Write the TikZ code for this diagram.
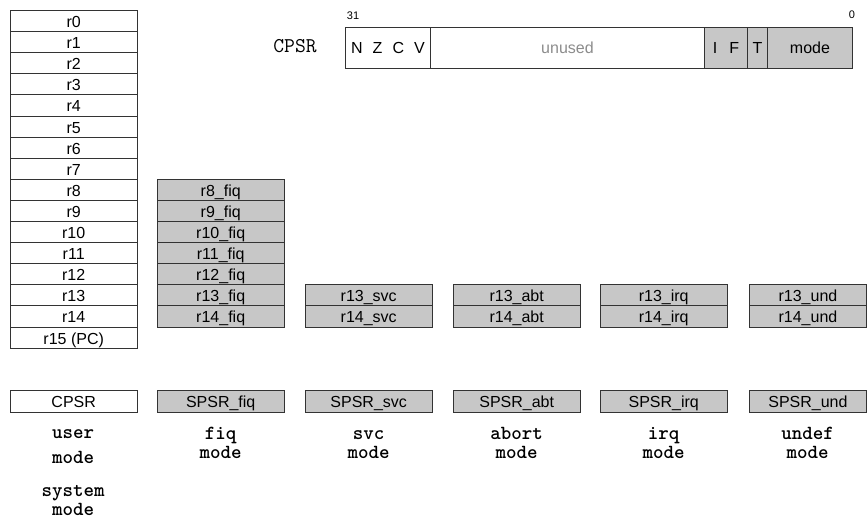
\documentclass[tikz,border=0pt]{standalone}
\usepackage{fontspec}
\setmainfont{Liberation Sans}
\begin{document}
\begin{tikzpicture}[x=1pt,y=-1pt,
  reg/.style={draw=black!80, line width=0.9pt, minimum width=126.5pt,
    minimum height=21.1pt, inner sep=0pt, anchor=north west,
    text height=14pt, text depth=1pt, font=\fontsize{16}{18}\selectfont},
  banked/.style={reg, fill=black!22},
  psr/.style={reg, minimum height=21.6pt},
  field/.style={draw=black!80, line width=0.9pt, minimum height=41.5pt,
    inner sep=0pt, anchor=north west, font=\fontsize{16}{18}\selectfont},
  flag/.style={field, fill=black!22},
  modelabel/.style={font=\fontsize{20}{22}\selectfont\ttfamily\bfseries,
    anchor=base, inner sep=0pt},
  bitno/.style={font=\fontsize{11}{12}\selectfont, inner sep=0pt},
]
\useasboundingbox (0,0) rectangle (867,520);

% user / system register file
\foreach \i in {0,...,14}
  \node[reg] (u\i) at (10,{10+21.1*\i}) {r\i};
\node[reg] (u15) at (10,{10+21.1*15}) {r15 (PC)};

% fiq banked registers
\foreach \i in {8,...,14}
  \node[banked] (f\i) at (157,{10+21.1*\i}) {r\i\_fiq};

% banked r13/r14 of the other modes
\foreach \m/\x in {svc/305, abt/453, irq/600} {
  \node[banked] (\m13) at (\x,{10+21.1*13}) {r13\_\m};
  \node[banked] (\m14) at (\x,{10+21.1*14}) {r14\_\m};
}
\node[banked, minimum width=117pt] (und13) at (749,{10+21.1*13}) {r13\_und};
\node[banked, minimum width=117pt] (und14) at (749,{10+21.1*14}) {r14\_und};

% status registers
\node[psr] (cpsrbox) at (10,390) {CPSR};
\node[psr, fill=black!22] (spsrfiq) at (157,390) {SPSR\_fiq};
\node[psr, fill=black!22] (spsrsvc) at (305,390) {SPSR\_svc};
\node[psr, fill=black!22] (spsrabt) at (453,390) {SPSR\_abt};
\node[psr, fill=black!22] (spsrirq) at (600,390) {SPSR\_irq};
\node[psr, fill=black!22, minimum width=117pt] (spsrund) at (749,390) {SPSR\_und};

% mode names
\node[modelabel] (lu1) at (73,438) {user};
\node[modelabel] (lu2) at (73,463) {mode};
\node[modelabel] (ls1) at (73,496) {system};
\node[modelabel] (ls2) at (73,515) {mode};
\foreach \n/\t/\x in {fiq/fiq/220.5, svc/svc/368.5, abt/abort/516.5,
                      irq/irq/663.5, und/undef/807.5} {
  \node[modelabel] (l\n1) at (\x,439) {\t};
  \node[modelabel] (l\n2) at (\x,458) {mode};
}

% CPSR bit layout
\node[font=\fontsize{21}{24}\selectfont\ttfamily, anchor=base, inner sep=0pt]
  (cpsrname) at (295,52) {CPSR};
\node[field, minimum width=85pt] (nzcv) at (345,26.5)
  {N\hspace{10pt}Z\hspace{10pt}C\hspace{10pt}V};
\node[field, minimum width=274pt, text=black!45] (unused) at (430,26.5) {unused};
\node[flag, minimum width=43pt] (iflag) at (704,26.5) {I\hspace{12pt}F};
\node[flag, minimum width=20pt] (tflag) at (747,26.5) {T};
\node[flag, minimum width=85pt] (modefield) at (767,26.5) {mode};
\node[bitno] (b31) at (353,16) {31};
\node[bitno] (b0) at (852,15) {0};
\end{tikzpicture}
\end{document}
